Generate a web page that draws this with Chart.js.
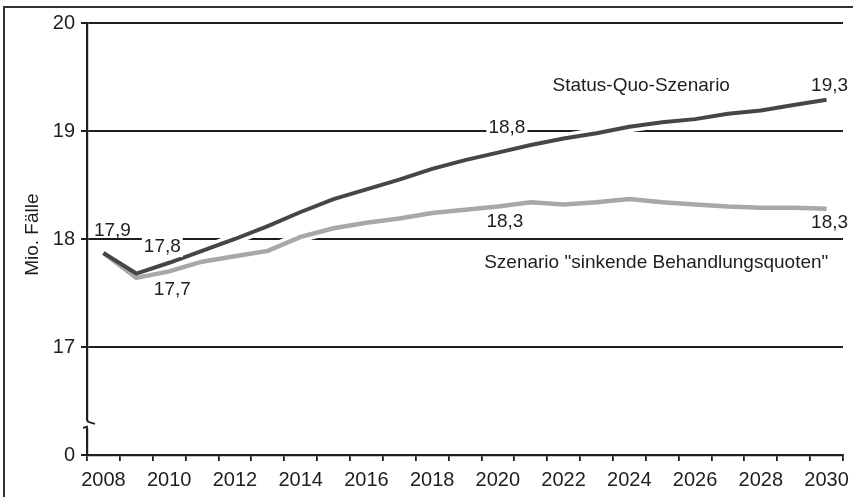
<!DOCTYPE html>
<html>
<head>
<meta charset="utf-8">
<script src="https://cdn.jsdelivr.net/npm/chart.js@4/dist/chart.umd.min.js"></script>
<style>
  html, body { margin: 0; padding: 0; background: #fff; }
  #wrap { width: 853px; height: 497px; }
</style>
</head>
<body>
<div id="wrap"><canvas id="myChart" width="853" height="497"></canvas></div>
<script>
const years = ["2008", "2009", "2010", "2011", "2012", "2013", "2014", "2015", "2016", "2017", "2018", "2019",
  "2020", "2021", "2022", "2023", "2024", "2025", "2026", "2027", "2028", "2029", "2030"];

// Mio. Fälle
const statusQuo = [17.87, 17.68, 17.78, 17.89, 18.0, 18.12, 18.25, 18.37, 18.46, 18.55, 18.65, 18.73,
  18.8, 18.87, 18.93, 18.98, 19.04, 19.08, 19.11, 19.16, 19.19, 19.24, 19.29];
const sinkend = [17.87, 17.64, 17.7, 17.79, 17.84, 17.89, 18.02, 18.1, 18.15, 18.19, 18.24, 18.27,
  18.3, 18.34, 18.32, 18.34, 18.37, 18.34, 18.32, 18.3, 18.29, 18.29, 18.28];

const yTicks = [16, 17, 18, 19, 20];
const yTickLabels = ["0", "17", "18", "19", "20"];

const textColor = "#1e1e1e";
const font = "'Liberation Sans', Arial, sans-serif";

// text labels: category index, y in data units, x shift in px
const notes = [
  { text: "17,9", i: 0, y: 18.08, dx: 9 },
  { text: "17,8", i: 1, y: 17.925, dx: 26, bg: true },
  { text: "17,7", i: 1, y: 17.53, dx: 36 },
  { text: "18,8", i: 12, y: 19.03, dx: 9, bg: true },
  { text: "18,3", i: 12, y: 18.16, dx: 7 },
  { text: "19,3", i: 22, y: 19.42, dx: 3 },
  { text: "18,3", i: 22, y: 18.15, dx: 3 },
  { text: "Status-Quo-Szenario", i: 17, y: 19.42, dx: -21 },
  { text: "Szenario \"sinkende Behandlungsquoten\"", i: 17, y: 17.78, dx: -6 },
];

const extras = {
  id: "extras",
  beforeDraw(chart) {
    const ctx = chart.ctx;
    ctx.save();
    ctx.strokeStyle = "#333";
    ctx.lineWidth = 2;
    ctx.beginPath();
    ctx.moveTo(4, 497);
    ctx.lineTo(4, 7);
    ctx.lineTo(853, 7);
    ctx.stroke();
    ctx.restore();
  },
  afterDatasetsDraw(chart) {
    const ctx = chart.ctx;
    const xs = chart.scales.x;
    const ys = chart.scales.y;
    const area = chart.chartArea;
    ctx.save();

    // axis break
    const yb = ys.getPixelForValue(16.28);
    ctx.fillStyle = "#fff";
    ctx.fillRect(area.left - 3, yb - 4, 6, 8);
    ctx.strokeStyle = textColor;
    ctx.lineWidth = 1.8;
    ctx.beginPath();
    ctx.moveTo(area.left, yb - 5);
    ctx.lineTo(area.left + 1, yb - 3);
    ctx.lineTo(area.left + 8, yb - 1);
    ctx.stroke();
    ctx.beginPath();
    ctx.moveTo(area.left - 4, yb + 3);
    ctx.lineTo(area.left, yb + 2);
    ctx.lineTo(area.left, yb + 8);
    ctx.stroke();

    // y title
    ctx.fillStyle = textColor;
    ctx.font = "19px " + font;
    ctx.textAlign = "center";
    ctx.textBaseline = "middle";
    ctx.translate(33, ys.getPixelForValue(18.04));
    ctx.rotate(-Math.PI / 2);
    ctx.fillText("Mio. Fälle", 0, 0);
    ctx.restore();

    // x tick labels, every second year
    ctx.save();
    ctx.fillStyle = textColor;
    ctx.font = "20px " + font;
    ctx.textAlign = "center";
    ctx.textBaseline = "middle";
    years.forEach((yr, i) => {
      if (i % 2 === 0) ctx.fillText(yr, xs.getPixelForValue(i), area.bottom + 25);
    });

    ctx.font = "19px " + font;
    notes.forEach(n => {
      const x = xs.getPixelForValue(n.i) + n.dx;
      const y = ys.getPixelForValue(n.y);
      if (n.bg) {
        const w = ctx.measureText(n.text).width;
        ctx.fillStyle = "#fff";
        ctx.fillRect(x - w / 2 - 2, y - 10, w + 4, 20);
      }
      ctx.fillStyle = textColor;
      ctx.fillText(n.text, x, y);
    });
    ctx.restore();
  },
};

const config = {
  type: "line",
  data: {
    labels: years,
    datasets: [
      {
        data: statusQuo,
        borderColor: "#464646",
        borderWidth: 4,
        pointRadius: 0,
        tension: 0,
        order: 0,
      },
      {
        data: sinkend,
        borderColor: "#a8a8a8",
        borderWidth: 4.5,
        pointRadius: 0,
        tension: 0,
        order: 1,
      },
      {
        // white edge under the lines
        data: statusQuo,
        borderColor: "#fff",
        borderWidth: 11,
        pointRadius: 0,
        order: 2,
      },
      {
        data: sinkend,
        borderColor: "#fff",
        borderWidth: 11,
        pointRadius: 0,
        order: 3,
      },
    ],
  },
  options: {
    responsive: false,
    animation: false,
    layout: { padding: { top: 23, right: 10, left: 0, bottom: 0 } },
    plugins: {
      legend: { display: false },
      tooltip: { enabled: false },
    },
    scales: {
      x: {
        type: "category",
        offset: true,
        grid: {
          offset: true,
          drawOnChartArea: false,
          drawTicks: true,
          tickLength: 6,
          color: textColor,
          lineWidth: 1.8,
        },
        border: { display: true, color: textColor, width: 2.2 },
        ticks: { display: false },
        afterFit: (s) => { s.height = 42; },
      },
      y: {
        min: 16,
        max: 20,
        afterBuildTicks: (s) => { s.ticks = yTicks.map(v => ({ value: v })); },
        grid: {
          color: textColor,
          lineWidth: 2,
          drawTicks: true,
          tickLength: 6,
        },
        border: { display: true, color: textColor, width: 2.2 },
        ticks: {
          color: textColor,
          font: { family: font, size: 20 },
          padding: 6,
          callback: (v) => yTickLabels[yTicks.indexOf(v)],
        },
        afterFit: (s) => { s.width = 87; },
      },
    },
  },
  plugins: [extras],
};

const chart = new Chart(document.getElementById("myChart"), config);
</script>
</body>
</html>
